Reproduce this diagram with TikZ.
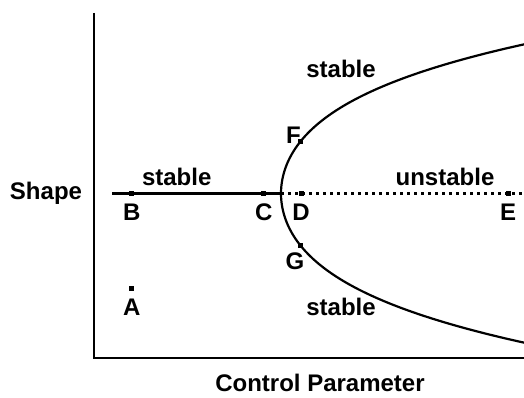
\documentclass[tikz,border=0pt]{standalone}
\usepackage{fontspec}
\setmainfont{Liberation Sans}
\usepackage{tikz}
\usetikzlibrary{calc}

\tikzset{
  mk/.style={fill=black,inner sep=0pt,minimum size=5pt},
  lab/.style={font=\fontsize{24}{28}\selectfont\bfseries,inner sep=0pt,anchor=base},
  axisline/.style={line width=2.6pt},
  branch/.style={line width=2.2pt}
}

\begin{document}
\begin{tikzpicture}[x=1pt,y=1pt]
    \useasboundingbox (0,0) rectangle (524,397);
    % axes
    \draw[axisline] (94,384) -- (94,39) -- (524,39);
    \node[lab] (shape) at (46,198) {Shape};
    \node[lab] (ctrl) at (320,6) {Control Parameter};
    % trivial branch: solid (stable) then dotted (unstable)
    \coordinate (start) at (112,203.5);
    \coordinate (vertex) at (281,203.5);
    \coordinate (stop) at (524,203.5);
    \draw[branch] (start) -- (vertex);
    \draw[branch,dash pattern=on 3pt off 4pt] (vertex) -- (stop);
    % bifurcated branches, t in [-1.5,1.5]
    \draw[branch,smooth] plot[domain=-1.5:1.5,samples=61]
      ({281+66.8*\x*\x+19.07*\x*\x*\x*\x},{203.5+100*\x});
    % marked states
    \node[mk] (mA) at (131.7,109) {};
    \node[mk] (mB) at (131.7,203.5) {};
    \node[mk] (mC) at (263,203.5) {};
    \node[mk] (mD) at (301,203.5) {};
    \node[mk] (mE) at (508,203.5) {};
    \node[mk] (mF) at (300.5,255.3) {};
    \node[mk] (mG) at (300.5,151.7) {};
    \node[lab] (lA) at (131.7,82) {A};
    \node[lab] (lB) at (131.7,177) {B};
    \node[lab] (lC) at (263.7,177) {C};
    \node[lab] (lD) at (301,177) {D};
    \node[lab] (lE) at (508,177) {E};
    \node[lab] (lF) at (293.5,254) {F};
    \node[lab] (lG) at (295,128) {G};
    % stability labels
    \node[lab] (stUp) at (341,319.7) {stable};
    \node[lab] (stLeft) at (176.7,211.7) {stable};
    \node[lab] (unst) at (445,211.7) {unstable};
    \node[lab] (stLow) at (341,81.3) {stable};
\end{tikzpicture}
\end{document}
